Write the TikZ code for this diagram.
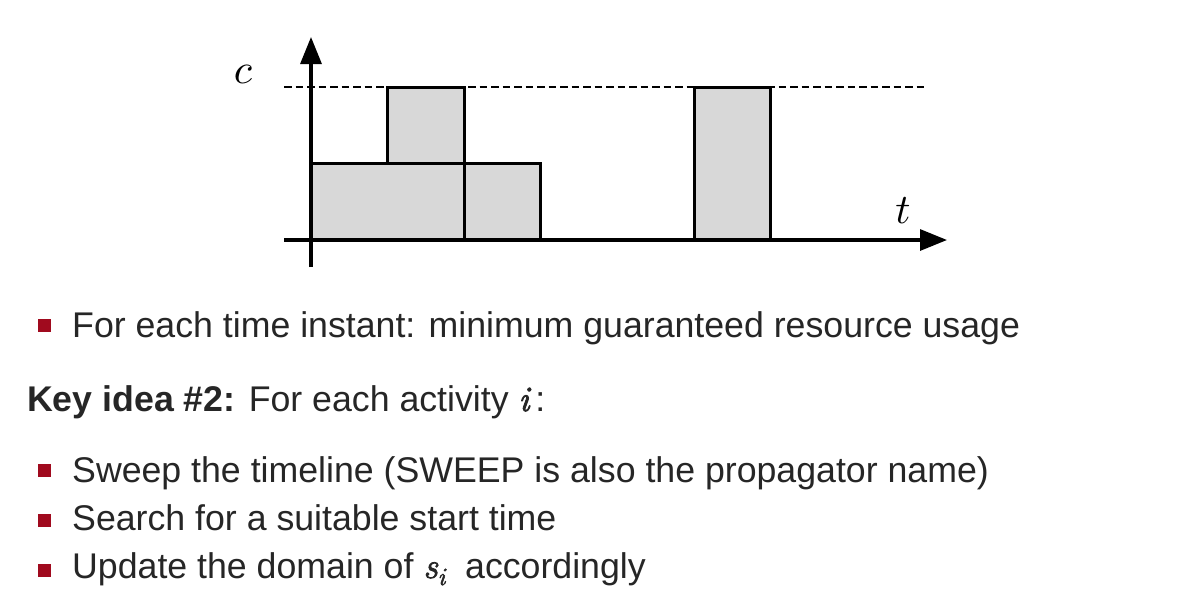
\documentclass[tikz,border=0pt]{standalone}
\usepackage{graphicx}
\usepackage{fontspec}
\setmainfont{Liberation Sans}
\newfontfamily\lmrbi{Latin Modern Roman}[ItalicFeatures={FakeBold=2.5}]
\usetikzlibrary{arrows.meta}
\definecolor{bulletred}{HTML}{A00A1E}
\definecolor{txt}{HTML}{262626}
\definecolor{boxgray}{HTML}{D8D8D8}
\tikzset{
  axis/.style={line width=3.2pt,-{Triangle[length=27pt,width=21pt]}},
  task/.style={draw=black,line width=3pt,fill=boxgray},
  capline/.style={line width=2.6pt,dash pattern=on 7.5pt off 4pt},
  bul/.style={fill=bulletred,minimum size=13pt,inner sep=0pt},
  line/.style={anchor=base west,inner sep=0pt,text=txt,font=\fontsize{35.7}{40}\selectfont},
  mathlbl/.style={inner sep=0pt,scale=4.2,font=\normalsize}
}
\newcommand{\bvar}[1]{{\lmrbi\itshape #1}}
\newcommand{\bsub}[1]{\raisebox{-7pt}{\fontsize{25}{28}\selectfont\bvar{#1}}}
\begin{document}
\begin{tikzpicture}[x=1pt,y=-1pt]
\useasboundingbox (0,0) rectangle (1194,614);
% tasks
\draw[task] (311,163) rectangle (464,240);
\draw[task] (387.7,87) rectangle (464,163);
\draw[task] (464,163) rectangle (540.7,240);
\draw[task] (694,87) rectangle (770.7,240);
% capacity
\draw[capline] (284,87) -- (925,87);
% axes
\coordinate (xs) at (284,240);
\coordinate (xe) at (947,240);
\coordinate (ys) at (311,267);
\coordinate (ye) at (311,37);
\draw[axis] (xs) -- (xe);
\draw[axis] (ys) -- (ye);
\node[mathlbl] (c) at (243,74) {$c$};
\node[mathlbl] (t) at (903,211) {$t$};
% bullets
\node[bul] (b1) at (44,325.5) {};
\node[line] (l1) at (72,337) {For each time instant: minimum guaranteed resource usage};
\node[line] (k) at (27,411) {\textbf{Key idea \#2:} For each activity \bvar{i}\,:};
\node[bul] (b2) at (44,470) {};
\node[line] (l2) at (72,482) {Sweep the timeline (SWEEP is also the propagator name)};
\node[bul] (b3) at (44,520) {};
\node[line] (l3) at (72,530) {Search for a suitable start time};
\node[bul] (b4) at (44,570) {};
\node[line] (l4) at (72,578) {Update the domain of \bvar{s}\bsub{i}\hspace{10pt} accordingly};
\end{tikzpicture}
\end{document}
